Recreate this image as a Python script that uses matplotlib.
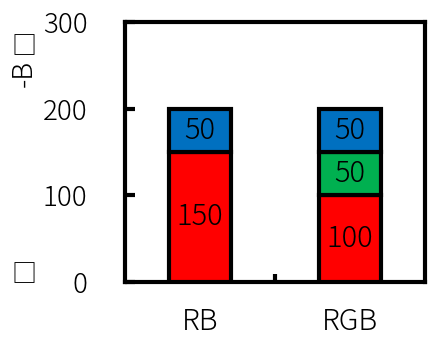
import matplotlib
matplotlib.use("Agg")
import matplotlib.pyplot as plt
import numpy as np

plt.rcParams['font.family'] = ['Noto Sans CJK JP', 'DejaVu Sans']
plt.rcParams['font.weight'] = 'light'

categories = ["RB", "RGB"]
red_vals = [150, 100]
green_vals = [0, 50]
blue_vals = [50, 50]
y_ticks = [0, 100, 200, 300]

RED = "#ff0000"
GREEN = "#00b050"
BLUE = "#0070c0"

fig = plt.figure(figsize=(4.3, 3.5), dpi=100)
ax = fig.add_axes([0.2907, 0.1943, 0.6977, 0.7428])

x = np.arange(len(categories))
width = 0.41
bar_kw = dict(width=width, edgecolor="black", linewidth=3, zorder=3)

red = np.array(red_vals)
green = np.array(green_vals)
blue = np.array(blue_vals)

ax.bar(x, red, color=RED, **bar_kw)
for i in range(len(x)):
    if green[i] > 0:
        ax.bar(x[i], green[i], bottom=red[i], color=GREEN, **bar_kw)
ax.bar(x, blue, bottom=red + green, color=BLUE, **bar_kw)

# value labels in the middle of each segment
for i in range(len(x)):
    ax.text(x[i], red[i] / 2, str(red[i]), ha="center", va="center",
            fontsize=21, zorder=4)
    if green[i] > 0:
        ax.text(x[i], red[i] + green[i] / 2, str(green[i]), ha="center",
                va="center", fontsize=21, zorder=4)
    ax.text(x[i], red[i] + green[i] + blue[i] / 2, str(blue[i]),
            ha="center", va="center", fontsize=21, zorder=4)

ax.set_xlim(-0.5, 1.5)
ax.set_ylim(0, 300)
ax.set_yticks(y_ticks)
ax.set_xticks(x)
ax.set_xticklabels(categories)
ax.set_xticks([0.5], minor=True)

for s in ax.spines.values():
    s.set_linewidth(3)

ax.tick_params(axis="y", direction="in", length=7, width=3, pad=27,
               labelsize=20)
ax.tick_params(axis="x", which="major", length=0, pad=18, labelsize=21)
ax.tick_params(axis="x", which="minor", direction="in", length=6, width=3)

# axis title, only partly renderable
fig.text(0.055, 0.79, "-B", fontsize=20, rotation=90, ha="center",
         va="center")
box_kw = dict(ha="center", va="center", fontsize=18,
              family=["Noto Sans CJK JP", "DejaVu Sans"],
              fontweight="normal")
fig.text(0.055, 0.866, "\u25a1", **box_kw)
fig.text(0.055, 0.214, "\u25a1", **box_kw)

fig.savefig("out.png", dpi=100)
